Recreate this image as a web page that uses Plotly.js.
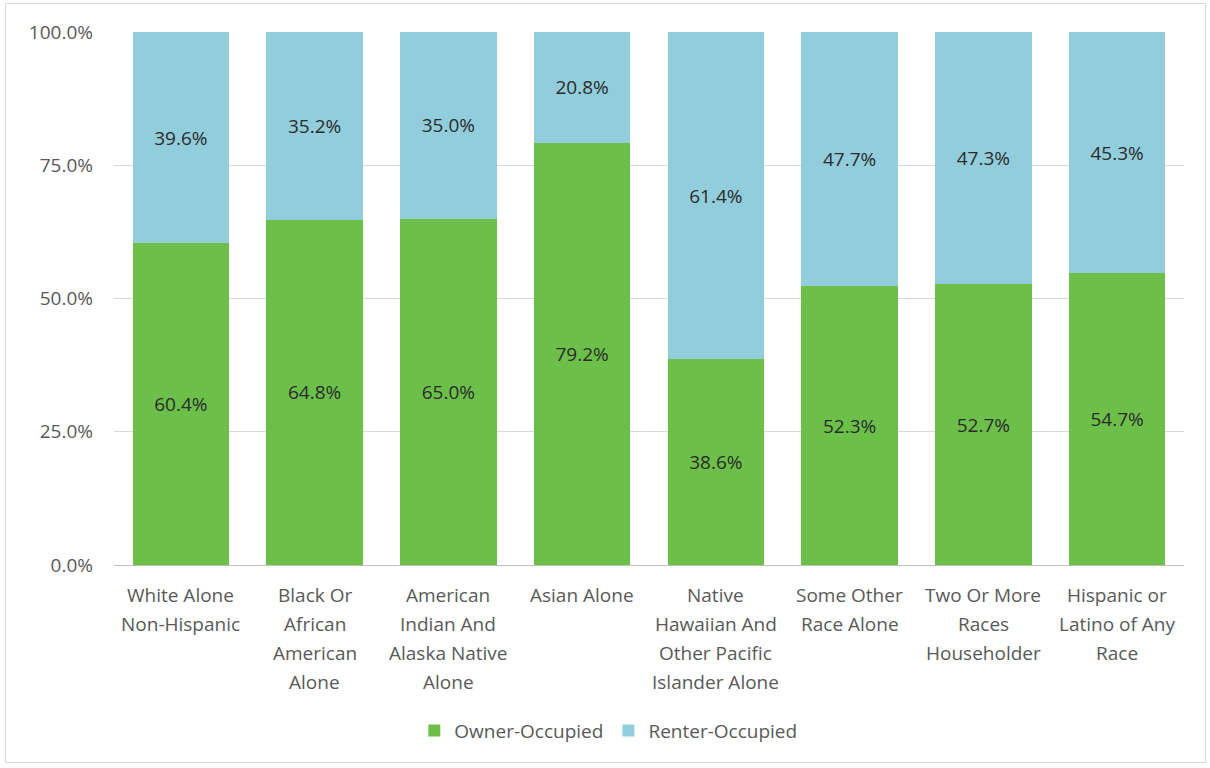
<!DOCTYPE html>
<html>
<head>
<meta charset="utf-8">
<script src="https://cdn.plot.ly/plotly-3.0.1.min.js"></script>
<style>
  html, body { margin: 0; padding: 0; background: #ffffff; }
  #wrap { position: relative; width: 1210px; height: 768px; }
  #chart { width: 1210px; height: 768px; }
  #frame { position: absolute; left: 5px; top: 3px; width: 1199px; height: 758px; border: 1px solid #d9d9d9; pointer-events: none; }
</style>
</head>
<body>
<div id="wrap">
  <div id="chart"></div>
  <div id="frame"></div>
</div>
<script>
const categories = [
  "White Alone<br>Non-Hispanic",
  "Black Or<br>African<br>American<br>Alone",
  "American<br>Indian And<br>Alaska Native<br>Alone",
  "Asian Alone",
  "Native<br>Hawaiian And<br>Other Pacific<br>Islander Alone",
  "Some Other<br>Race Alone",
  "Two Or More<br>Races<br>Householder",
  "Hispanic or<br>Latino of Any<br>Race"
];
const ownerOccupied = [60.4, 64.8, 65.0, 79.2, 38.6, 52.3, 52.7, 54.7];
const renterOccupied = [39.6, 35.2, 35.0, 20.8, 61.4, 47.7, 47.3, 45.3];
const yTicks = [0, 25, 50, 75, 100];
const yTickText = ["0.0%", "25.0%", "50.0%", "75.0%", "100.0%"];

const FONT = "Open Sans, Noto Sans, sans-serif";
const SIZE = 19;
const labelFont = { family: FONT, size: SIZE, color: "#2b2b2b" };

const traces = [
  {
    type: "bar", name: "Owner-Occupied", x: categories, y: ownerOccupied,
    marker: { color: "#6cc04a" },
    texttemplate: "%{y:.1f}%", textposition: "inside", insidetextanchor: "middle",
    textangle: 0, constraintext: "none", textfont: labelFont, hoverinfo: "skip"
  },
  {
    type: "bar", name: "Renter-Occupied", x: categories, y: renterOccupied,
    marker: { color: "#92cddc" },
    texttemplate: "%{y:.1f}%", textposition: "inside", insidetextanchor: "middle",
    textangle: 0, constraintext: "none", textfont: labelFont, hoverinfo: "skip"
  }
];

// category labels drawn as annotations (one per line) to match line spacing
const annotations = [];
categories.forEach(function (c) {
  c.split("<br>").forEach(function (line, i) {
    annotations.push({
      x: c, xref: "x", y: 0, yref: "paper",
      text: line, showarrow: false, xanchor: "center", yanchor: "middle",
      yshift: -30 - i * 29,
      font: { family: FONT, size: SIZE, color: "#595959" }
    });
  });
});

const layout = {
  width: 1210, height: 768,
  margin: { l: 114, r: 26, t: 32, b: 203 },
  barmode: "stack", bargap: 0.28,
  paper_bgcolor: "#ffffff", plot_bgcolor: "#ffffff",
  font: { family: FONT, size: SIZE, color: "#595959" },
  xaxis: {
    type: "category", showticklabels: false, ticks: "",
    showline: true, linecolor: "#bfbfbf", linewidth: 1, showgrid: false, zeroline: false
  },
  yaxis: {
    range: [0, 100], tickmode: "array", tickvals: yTicks, ticktext: yTickText,
    showgrid: true, gridcolor: "#d9d9d9", gridwidth: 1, zeroline: false,
    showline: false, ticks: "", ticklabelstandoff: 20,
    tickfont: { family: FONT, size: SIZE, color: "#595959" }
  },
  legend: {
    orientation: "h", x: 0.462, xanchor: "center", y: -0.311, yanchor: "middle",
    font: { family: FONT, size: SIZE, color: "#595959" },
    itemwidth: 30, traceorder: "normal"
  },
  annotations: annotations,
  showlegend: true
};

Plotly.newPlot("chart", traces, layout, { displayModeBar: false, staticPlot: true });
</script>
</body>
</html>
